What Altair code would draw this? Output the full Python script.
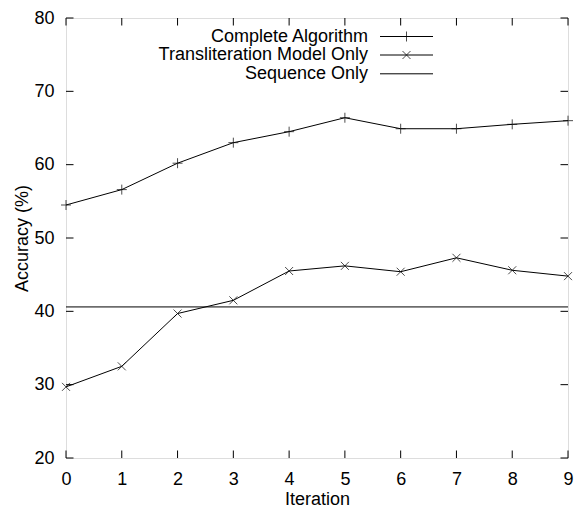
import altair as alt
import pandas as pd

iterations = [0, 1, 2, 3, 4, 5, 6, 7, 8, 9]
complete_alg = [54.5, 56.6, 60.2, 63.0, 64.5, 66.4, 64.9, 64.9, 65.5, 66.0]
translit_only = [29.7, 32.5, 39.7, 41.5, 45.5, 46.2, 45.4, 47.3, 45.6, 44.8]
sequence_only = [40.6]
series_names = ["Complete Algorithm", "Transliteration Model Only", "Sequence Only"]
x_ticks = list(range(0, 10))
y_ticks = [20, 30, 40, 50, 60, 70, 80]

W, H = 502, 440
FONT = "Liberation Sans"
FS = 18
TICK = 7.5

PLUS = "M-1,0L1,0M0,-1L0,1"
XMARK = "M-1,-1L1,1M-1,1L1,-1"

xs = alt.Scale(domain=[0, 9], nice=False, zero=False)
ys = alt.Scale(domain=[20, 80], nice=False, zero=False)

df_c = pd.DataFrame({"it": iterations, "acc": complete_alg})
df_t = pd.DataFrame({"it": iterations, "acc": translit_only})
df_s = pd.DataFrame({"acc": sequence_only})
df_xt = pd.DataFrame({"t": x_ticks})
df_yt = pd.DataFrame({"t": y_ticks})

xax = alt.Axis(values=x_ticks, format="d", domain=False, ticks=False, grid=False, labelFont=FONT,
               labelFontSize=FS, labelColor="black", labelPadding=26,
               labelBaseline="alphabetic", labelFlush=False,
               title="Iteration", titleFont=FONT, titleFontSize=FS, titleFontWeight="normal",
               titleColor="black", titleY=46, titleBaseline="alphabetic")
yax = alt.Axis(values=y_ticks, format="d", domain=False, ticks=False, grid=False, labelFont=FONT,
               labelFontSize=FS, labelColor="black", labelPadding=12,
               labelBaseline="middle", labelFlush=False,
               title="Accuracy (%)", titleFont=FONT, titleFontSize=FS, titleFontWeight="normal",
               titleColor="black", titleX=-39, titleY=H / 2, titleAngle=-90,
               titleBaseline="alphabetic", titleAlign="center")

line_c = alt.Chart(df_c).mark_line(color="black", strokeWidth=1).encode(
    x=alt.X("it:Q", scale=xs, axis=xax), y=alt.Y("acc:Q", scale=ys, axis=yax))
pts_c = alt.Chart(df_c).mark_point(shape=PLUS, size=100, color="black", strokeWidth=1, filled=False).encode(
    x=alt.X("it:Q", scale=xs), y=alt.Y("acc:Q", scale=ys))
line_t = alt.Chart(df_t).mark_line(color="black", strokeWidth=1).encode(
    x=alt.X("it:Q", scale=xs), y=alt.Y("acc:Q", scale=ys))
pts_t = alt.Chart(df_t).mark_point(shape=XMARK, size=64, color="black", strokeWidth=1, filled=False).encode(
    x=alt.X("it:Q", scale=xs), y=alt.Y("acc:Q", scale=ys))
seq = alt.Chart(df_s).mark_rule(color="black", strokeWidth=1).encode(
    y=alt.Y("acc:Q", scale=ys))

# inward ticks on all four sides
tb = alt.Chart(df_xt).mark_rule(color="black", strokeWidth=1).encode(
    x=alt.X("t:Q", scale=xs), y=alt.value(H), y2=alt.value(H - TICK))
tt = alt.Chart(df_xt).mark_rule(color="black", strokeWidth=1).encode(
    x=alt.X("t:Q", scale=xs), y=alt.value(0), y2=alt.value(TICK))
tl = alt.Chart(df_yt).mark_rule(color="black", strokeWidth=1).encode(
    y=alt.Y("t:Q", scale=ys), x=alt.value(0), x2=alt.value(TICK))
tr = alt.Chart(df_yt).mark_rule(color="black", strokeWidth=1).encode(
    y=alt.Y("t:Q", scale=ys), x=alt.value(W), x2=alt.value(W - TICK))

# legend (gnuplot style: label on the left, sample on the right)
leg_y = [18.5, 37.0, 55.8]
lx_text, lx0, lx1 = 302, 314, 367
lx_mid = (lx0 + lx1) / 2
legend_layers = []
for i, name in enumerate(series_names):
    d = pd.DataFrame({"name": [name]})
    legend_layers.append(alt.Chart(d).mark_text(align="right", baseline="middle", font=FONT,
                                                fontSize=FS, color="black").encode(
        text="name:N", x=alt.value(lx_text), y=alt.value(leg_y[i])))
    legend_layers.append(alt.Chart(d).mark_rule(color="black", strokeWidth=1).encode(
        x=alt.value(lx0), x2=alt.value(lx1), y=alt.value(leg_y[i])))
legend_layers.append(alt.Chart(pd.DataFrame({"name": [series_names[0]]})).mark_point(
    shape=PLUS, size=100, color="black", strokeWidth=1, filled=False).encode(
    x=alt.value(lx_mid), y=alt.value(leg_y[0])))
legend_layers.append(alt.Chart(pd.DataFrame({"name": [series_names[1]]})).mark_point(
    shape=XMARK, size=64, color="black", strokeWidth=1, filled=False).encode(
    x=alt.value(lx_mid), y=alt.value(leg_y[1])))

chart = alt.layer(line_c, pts_c, line_t, pts_t, seq, tb, tt, tl, tr, *legend_layers).properties(
    width=W, height=H,
    autosize=alt.AutoSizeParams(type="none"),
    padding={"left": 58, "top": 10, "right": 6, "bottom": 50},
).configure_view(stroke="black", strokeWidth=1).configure(background="white")

chart.save("out.html", embed_options={"renderer": "svg", "actions": False})
